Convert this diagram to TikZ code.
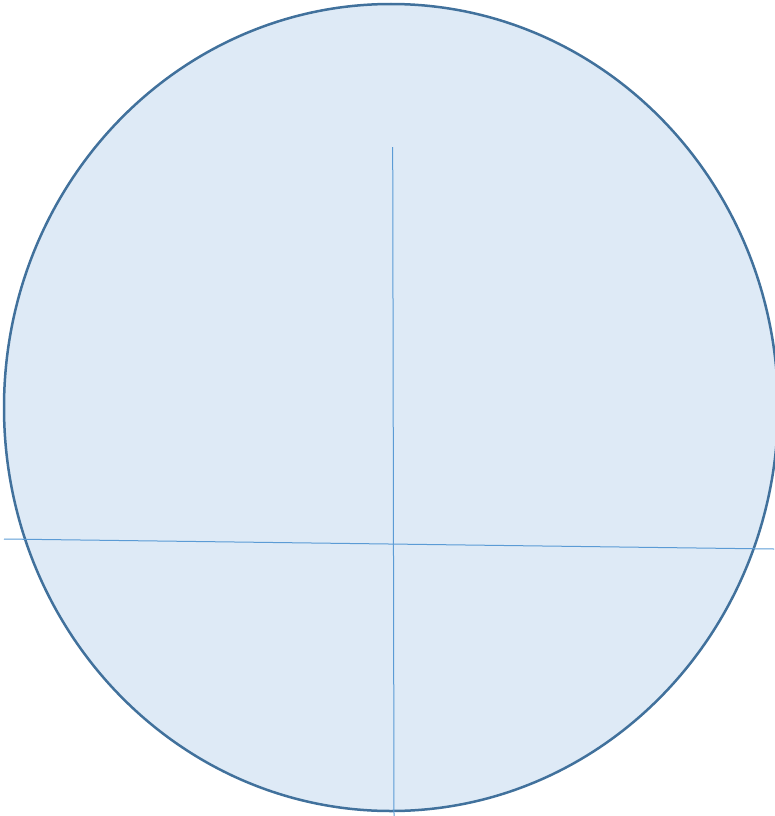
\documentclass[tikz,border=0pt]{standalone}
\definecolor{fillblue}{HTML}{DEEAF6}
\definecolor{edgeblue}{HTML}{41719C}
\definecolor{lineblue}{HTML}{5B9BD5}
\tikzset{
  disc/.style={fill=fillblue, draw=edgeblue, line width=2.5pt},
  axis/.style={draw=lineblue, line width=1pt}
}
\begin{document}
\begin{tikzpicture}[x=1pt, y=-1pt]
\useasboundingbox (0,0) rectangle (774,816);
\path[disc] (391,407.5) ellipse [x radius=387, y radius=403.5];
\coordinate (hl) at (4,539);
\coordinate (hr) at (774,549);
\coordinate (vt) at (392.7,147);
\coordinate (vb) at (394,816);
\draw[axis] (hl) -- (hr);
\draw[axis] (vt) -- (vb);
\end{tikzpicture}
\end{document}
